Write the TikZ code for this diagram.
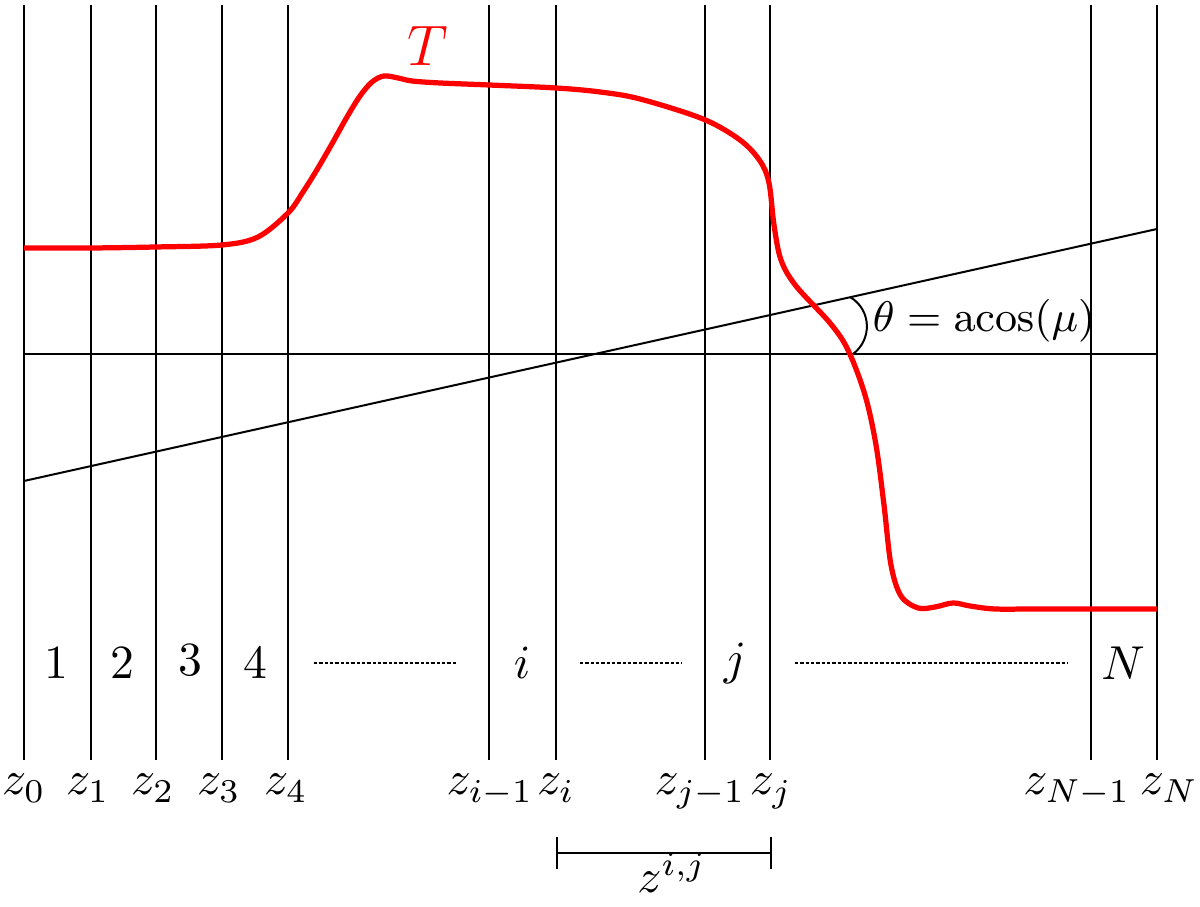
\documentclass[tikz,border=0pt]{standalone}
\begin{document}
\begin{tikzpicture}[x=0.21pt,y=-0.21pt,
  bound/.style={line width=0.42pt},
  profile/.style={red,line width=1.1pt,line join=round},
  dots/.style={dash pattern=on 0.7pt off 0.42pt,line width=0.3pt},
  zlab/.style={inner sep=0pt,anchor=base},
  reg/.style={inner sep=0pt}]
\useasboundingbox (0,0) rectangle (1200,907);
% boundaries
\foreach \n/\x in {0/24,1/91,2/156,3/222,4/288,im/489,i/556,jm/705,j/770,Nm/1091,N/1157}{
  \coordinate (t\n) at (\x,5);
  \coordinate (b\n) at (\x,760);
  \draw[bound] (t\n) -- (b\n);
}
% horizontal and sloped lines
\coordinate (hL) at (24,354);
\coordinate (hR) at (1157,354);
\coordinate (sL) at (24,481);
\coordinate (sR) at (1157,229);
\draw[bound] (hL) -- (hR);
\draw[bound] (sL) -- (sR);
% angle arc
\coordinate (aT) at (850,297);
\coordinate (aB) at (853,354);
\draw[bound] (aT) .. controls (872,310) and (872,340) .. (aB);
\node[inner sep=0pt,anchor=base west,font=\fontsize{9}{11}\selectfont] (theta) at (872,332) {$\theta=\mathrm{acos}(\mu)$};
% temperature profile
\draw[profile] plot[smooth,tension=0.55] coordinates {
 (24,248) (91,248) (156,247) (222,245) (258,237) (288,213)
 (303,192) (318,168) (333,142) (347,117) (360,96) (372,82) (384,76)
 (398,78) (412,81) (440,83)
 (489,85) (556,88) (600,92) (640,99) (703,119) (740,140) (760,161)
 (769,183) (774,225) (781,260) (796,286) (830,323) (848,350)
 (865,395) (876,445) (884,505) (891,565) (901,596) (918,608) (935,607)
 (953,603) (970,606) (995,609) (1040,609) (1157,609)};
\node[red,inner sep=0pt] (T) at (428,46) {\large $T$};
% region labels
\node[reg] (r1) at (56,663) {$1$};
\node[reg] (r2) at (122,663) {$2$};
\node[reg] (r3) at (190,660) {$3$};
\node[reg] (r4) at (255,663) {$4$};
\node[reg] (ri) at (522,663) {$i$};
\node[reg] (rj) at (735,663) {$j$};
\node[reg] (rN) at (1123,663) {$N$};
% dotted separators
\coordinate (d1a) at (314,663); \coordinate (d1b) at (456,663);
\coordinate (d2a) at (580,663); \coordinate (d2b) at (682,663);
\coordinate (d3a) at (795,663); \coordinate (d3b) at (1068,663);
\draw[dots] (d1a) -- (d1b);
\draw[dots] (d2a) -- (d2b);
\draw[dots] (d3a) -- (d3b);
% z labels
\node[zlab] (z0) at (24,795) {$z_0$};
\node[zlab] (z1) at (88,795) {$z_1$};
\node[zlab] (z2) at (153,795) {$z_2$};
\node[zlab] (z3) at (219,795) {$z_3$};
\node[zlab] (z4) at (286,795) {$z_4$};
\node[zlab] (zim) at (490,795) {$z_{i-1}$};
\node[zlab] (zi) at (556,795) {$z_i$};
\node[zlab] (zjm) at (700,795) {$z_{j-1}$};
\node[zlab] (zj) at (771,795) {$z_j$};
\node[zlab] (zNm) at (1077,795) {$z_{N-1}$};
\node[zlab] (zN) at (1169,795) {$z_N$};
% span bracket
\coordinate (bl1) at (557,837); \coordinate (bl2) at (557,869);
\coordinate (br1) at (771,837); \coordinate (br2) at (771,869);
\coordinate (bm1) at (557,853); \coordinate (bm2) at (771,853);
\draw[bound] (bl1) -- (bl2);
\draw[bound] (br1) -- (br2);
\draw[bound] (bm1) -- (bm2);
\node[zlab] (zij) at (672,893) {$z^{i,j}$};
\end{tikzpicture}
\end{document}
